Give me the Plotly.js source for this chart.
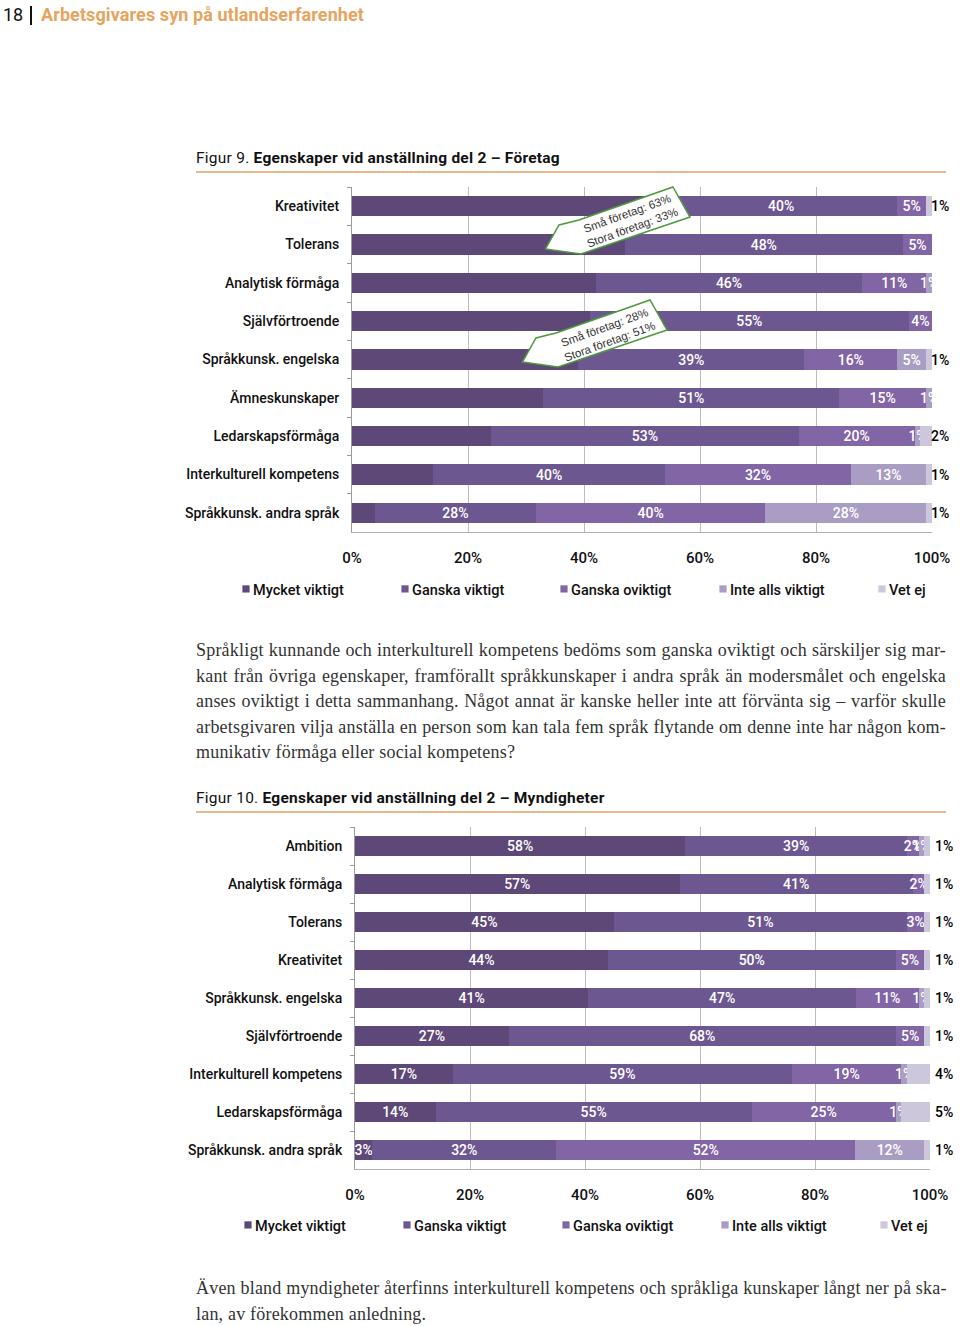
<!DOCTYPE html>
<html><head><meta charset="utf-8">
<script src="https://cdn.plot.ly/plotly-3.0.1.min.js"></script>
<style>
html,body{margin:0;padding:0;background:#fff;}
body{width:960px;height:1326px;position:relative;overflow:hidden;}
.abs{position:absolute;}
.hdr{font-family:Roboto,"Liberation Sans",sans-serif;font-size:18px;line-height:20px;white-space:nowrap;}
.fig{font-family:Roboto,"Liberation Sans",sans-serif;font-size:15.5px;letter-spacing:0.25px;line-height:18px;white-space:nowrap;color:#111;}
.fig b{font-weight:700;}
.rule{height:2px;background:#e8b98a;}
.para{font-family:"Liberation Serif","DejaVu Serif",serif;font-size:18px;letter-spacing:0.2px;line-height:25.5px;color:#333;width:750px;}
.para div{text-align:justify;text-align-last:justify;white-space:nowrap;}
.para div.last{text-align:left;text-align-last:left;}
</style></head><body>

<div class="abs hdr" style="left:3px;top:5px;color:#111;">18</div>
<div class="abs" style="left:30px;top:6px;width:2px;height:19px;background:#111;"></div>
<div class="abs hdr" style="left:41px;top:5px;color:#e6a45e;font-weight:700;letter-spacing:0.1px;">Arbetsgivares syn på utlandserfarenhet</div>

<div class="abs fig" style="left:196px;top:149px;">Figur 9. <b>Egenskaper vid anställning del 2 – Företag</b></div>
<div class="abs rule" style="left:196px;top:171px;width:750px;"></div>

<div id="chart1" class="abs" style="left:0;top:180px;width:1200px;height:440px;"></div>

<div class="abs para" style="left:196px;top:638px;">
<div>Språkligt kunnande och interkulturell kompetens bedöms som ganska oviktigt och särskiljer sig mar-</div>
<div>kant från övriga egenskaper, framförallt språkkunskaper i andra språk än modersmålet och engelska</div>
<div>anses oviktigt i detta sammanhang. Något annat är kanske heller inte att förvänta sig – varför skulle</div>
<div>arbetsgivaren vilja anställa en person som kan tala fem språk flytande om denne inte har någon kom-</div>
<div class="last">munikativ förmåga eller social kompetens?</div>
</div>

<div class="abs fig" style="left:196px;top:789px;">Figur 10. <b>Egenskaper vid anställning del 2 – Myndigheter</b></div>
<div class="abs rule" style="left:196px;top:811px;width:750px;"></div>

<div id="chart2" class="abs" style="left:0;top:820px;width:1200px;height:440px;"></div>

<div class="abs para" style="left:196px;top:1276px;">
<div>Även bland myndigheter återfinns interkulturell kompetens och språkliga kunskaper långt ner på ska-</div>
<div class="last">lan, av förekommen anledning.</div>
</div>

<script>
// ---- Data ----
const legendNames = ['Mycket viktigt', 'Ganska viktigt', 'Ganska oviktigt', 'Inte alls viktigt', 'Vet ej'];

const foretagCategories = ['Kreativitet', 'Tolerans', 'Analytisk förmåga', 'Självförtroende', 'Språkkunsk. engelska', 'Ämneskunskaper', 'Ledarskapsförmåga', 'Interkulturell kompetens', 'Språkkunsk. andra språk'];
const foretagMycket   = [54, 47, 42, 41, 39, 33, 24, 14, 4];
const foretagGanska   = [40, 48, 46, 55, 39, 51, 53, 40, 28];
const foretagOviktigt = [5, 5, 11, 4, 16, 15, 20, 32, 40];
const foretagInteAlls = [0, 0, 1, 0, 5, 1, 1, 13, 28];
const foretagVetEj    = [1, 0, 0, 0, 1, 0, 2, 1, 1];

const myndCategories = ['Ambition', 'Analytisk förmåga', 'Tolerans', 'Kreativitet', 'Språkkunsk. engelska', 'Självförtroende', 'Interkulturell kompetens', 'Ledarskapsförmåga', 'Språkkunsk. andra språk'];
const myndMycket   = [58, 57, 45, 44, 41, 27, 17, 14, 3];
const myndGanska   = [39, 41, 51, 50, 47, 68, 59, 55, 32];
const myndOviktigt = [2, 2, 3, 5, 11, 5, 19, 25, 52];
const myndInteAlls = [1, 0, 0, 0, 1, 0, 1, 1, 12];
const myndVetEj    = [1, 1, 1, 1, 1, 1, 4, 5, 1];

const callout1Text = ['Små företag: 63%', 'Stora företag: 33%'];
const callout2Text = ['Små företag: 28%', 'Stora företag: 51%'];

const xTickVals = [0, 20, 40, 60, 80, 100];

// ---- Styles ----
const colors = ['#5d4878', '#6d5791', '#8165a4', '#a99dc3', '#cdc7dc'];
const sans = 'Roboto, "Liberation Sans", sans-serif';

function pct(arr, show) { return arr.map(v => (show && v > 0) ? v + '%' : ''); }

function makeTraces(cats, series, showText) {
  return series.map((vals, i) => ({
    type: 'bar', orientation: 'h', name: legendNames[i],
    y: cats, x: vals,
    marker: {color: colors[i], line: {width: 0}},
    text: pct(vals, showText[i]),
    textposition: 'inside', insidetextanchor: 'middle', textangle: 0,
    constraintext: 'none',
    textfont: {family: sans, size: 14, color: '#ffffff', weight: 500},
    insidetextfont: {family: sans, size: 14, color: '#ffffff', weight: 500},
    hoverinfo: 'none'
  }));
}

function outsideLabels(cats, vetEj, shift) {
  const out = [];
  cats.forEach((c, i) => {
    if (vetEj[i] > 0) out.push({
      x: 100, y: c, xref: 'x', yref: 'y', text: vetEj[i] + '%', showarrow: false,
      xanchor: 'left', xshift: shift, font: {family: sans, size: 14, color: '#000', weight: 500}
    });
  });
  return out;
}

function baseLayout(pl, pt, pw, ph, totalW, totalH, legendX, legendY) {
  return {
    width: totalW, height: totalH,
    margin: {l: pl, r: totalW - pl - pw, t: pt, b: totalH - pt - ph, pad: 0},
    paper_bgcolor: '#fff', plot_bgcolor: '#fff',
    barmode: 'stack', barnorm: 'percent', bargap: 0.47,
    showlegend: true,
    legend: {orientation: 'h', x: legendX, y: legendY, xanchor: 'left', yanchor: 'middle',
             font: {family: sans, size: 14.5, color: '#111', weight: 500}, entrywidth: 114, entrywidthmode: 'pixels',
             traceorder: 'normal', itemclick: false, itemdoubleclick: false, bgcolor: 'rgba(0,0,0,0)'},
    xaxis: {range: [0, 100], tickvals: xTickVals, ticktext: xTickVals.map(v => v + '%'),
            showgrid: true, gridcolor: '#bdbdbd', gridwidth: 1, zeroline: false,
            showline: true, linecolor: '#b0b0b0', linewidth: 1,
            ticks: '', ticklabelstandoff: 12, fixedrange: true,
            tickfont: {family: sans, size: 15, color: '#111', weight: 500}},
    yaxis: {type: 'category', autorange: 'reversed', showgrid: false, zeroline: false,
            showline: true, linecolor: '#9a9a9a', linewidth: 1,
            ticks: 'outside', tickson: 'boundaries', ticklen: 4, tickcolor: '#9a9a9a',
            ticklabelstandoff: 9, fixedrange: true,
            tickfont: {family: sans, size: 14, color: '#111', weight: 500}},
    hovermode: false
  };
}

function calloutShapes(pl, pt, pw, ph, pts, dx, dy) {
  const px = x => (x + dx - pl) / pw;
  const py = y => (pt + ph - (y + dy)) / ph;
  const d = pts.map((p, i) => (i ? 'L' : 'M') + px(p[0]).toFixed(4) + ',' + py(p[1]).toFixed(4)).join(' ') + ' Z';
  return {type: 'path', xref: 'paper', yref: 'paper', path: d,
          fillcolor: '#ffffff', line: {color: '#4f9a3c', width: 1.5}, layer: 'above'};
}
function calloutText(pl, pt, pw, ph, lines, cx, cy) {
  return {xref: 'paper', yref: 'paper', x: (cx - pl) / pw, y: (pt + ph - cy) / ph,
          text: lines.join('<br>'), showarrow: false, textangle: -20,
          font: {family: '"Liberation Sans", Arial, sans-serif', size: 11.5, color: '#333'},
          xanchor: 'center', yanchor: 'middle'};
}

// callout outline in page pixels
const calloutPts = [[673, 187], [690, 217], [581, 254], [545.5, 249], [559, 225], [579, 220]];

// ---- Chart 1 (Företag) ----
(function () {
  const top = 180;
  const pl = 352, pt = 187 - top, pw = 580, ph = 345;
  const traces = makeTraces(foretagCategories,
    [foretagMycket, foretagGanska, foretagOviktigt, foretagInteAlls, foretagVetEj],
    [false, true, true, true, false]);
  const layout = baseLayout(pl, pt, pw, ph, 1200, 440, (213 - pl) / pw, (532 - 589) / ph);
  const ptsLocal = calloutPts.map(p => [p[0], p[1] - top]);
  layout.shapes = [calloutShapes(pl, pt, pw, ph, ptsLocal, 0, 0), calloutShapes(pl, pt, pw, ph, ptsLocal, -23, 113)];
  layout.annotations = outsideLabels(foretagCategories, foretagVetEj, -3)
    .concat([calloutText(pl, pt, pw, ph, callout1Text, 630, 221 - top),
             calloutText(pl, pt, pw, ph, callout2Text, 607, 334 - top)]);
  Plotly.newPlot('chart1', traces, layout, {staticPlot: true, displayModeBar: false}).then(fixLegend);
})();

// ---- Chart 2 (Myndigheter) ----
(function () {
  const top = 820;
  const pl = 355, pt = 827 - top, pw = 575, ph = 342;
  const traces = makeTraces(myndCategories,
    [myndMycket, myndGanska, myndOviktigt, myndInteAlls, myndVetEj],
    [true, true, true, true, false]);
  const layout = baseLayout(pl, pt, pw, ph, 1200, 440, (215 - pl) / pw, (1169 - 1225) / ph);
  layout.annotations = outsideLabels(myndCategories, myndVetEj, 3);
  Plotly.newPlot('chart2', traces, layout, {staticPlot: true, displayModeBar: false}).then(fixLegend);
})();

function fixLegend(gd) {
  gd.querySelectorAll('.legendpoints path').forEach(p => {
    p.setAttribute('transform', 'translate(33,0) scale(0.6)');
  });
}
</script>
</body></html>
